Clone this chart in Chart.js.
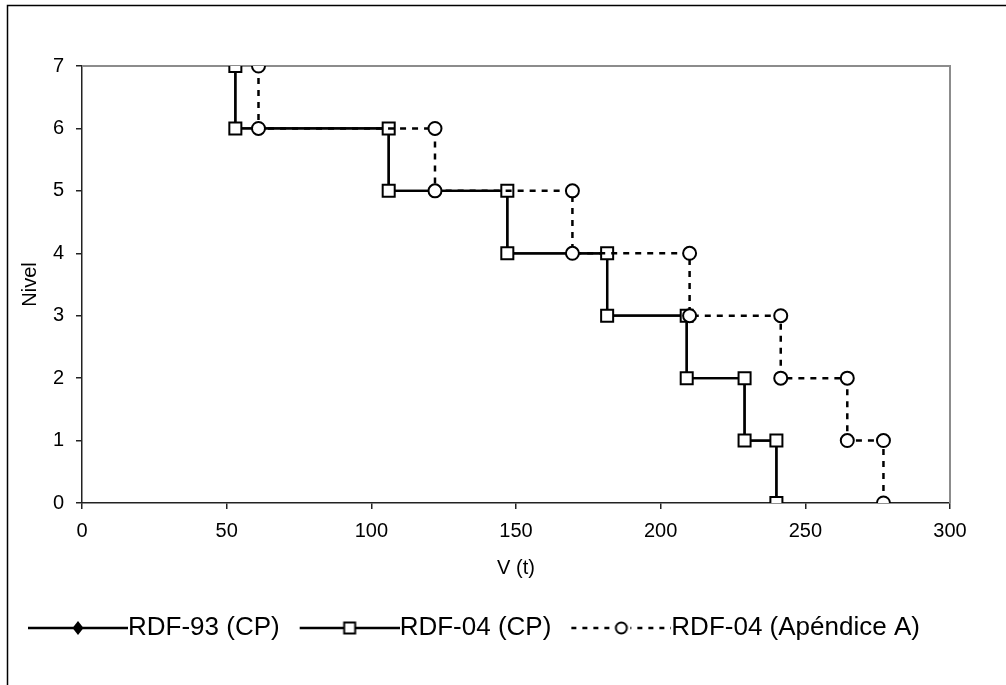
<!DOCTYPE html>
<html>
<head>
<meta charset="utf-8">
<script src="https://cdn.jsdelivr.net/npm/chart.js@4/dist/chart.umd.min.js"></script>
<style>
html,body{margin:0;padding:0;background:#fff;}
#wrap{position:relative;width:1006px;height:685px;}
</style>
</head>
<body>
<div id="wrap"><canvas id="c" width="1006" height="685"></canvas></div>
<script>
// ---- data ----
const seriesNames = ['RDF-93 (CP)', 'RDF-04 (CP)', 'RDF-04 (Apéndice A)'];
const levels = [7, 6, 6, 5, 5, 4, 4, 3, 3, 2, 2, 1, 1, 0];
const rdf93V = [53, 53, 106, 106, 147, 147, 181.5, 181.5, 209, 209, 229, 229, 240, 240];
const rdf04cpV = [53, 53, 106, 106, 147, 147, 181.5, 181.5, 209, 209, 229, 229, 240, 240];
const rdf04apV = [61, 61, 122, 122, 169.5, 169.5, 210, 210, 241.5, 241.5, 264.5, 264.5, 277, 277];
const xTicks = [0, 50, 100, 150, 200, 250, 300];
const yTicks = [0, 1, 2, 3, 4, 5, 6, 7];

const toPts = (xs, ys) => xs.map((x, i) => ({x: x, y: ys[i]}));

const FONT = "'Liberation Sans', Arial, sans-serif";
const LEG_FONT = 26;
const LEG_BOX = 97;      // legend box width
const LEG_SAMPLE = 100;  // visible sample length

function legendImage(kind) {
  const w = LEG_BOX + LEG_FONT, h = 22;
  const c = document.createElement('canvas');
  c.width = w; c.height = h;
  const g = c.getContext('2d');
  const x0 = w - LEG_SAMPLE;
  const cx = x0 + LEG_SAMPLE / 2, cy = h / 2;
  g.strokeStyle = '#000'; g.lineWidth = 2.3;
  if (kind === 'circle') g.setLineDash([5, 6]);
  g.beginPath(); g.moveTo(x0, cy); g.lineTo(w, cy); g.stroke();
  g.setLineDash([]);
  g.lineWidth = 2;
  if (kind === 'diamond') {
    g.fillStyle = '#000';
    g.beginPath(); g.moveTo(cx, cy - 7); g.lineTo(cx + 5.5, cy); g.lineTo(cx, cy + 7); g.lineTo(cx - 5.5, cy); g.closePath(); g.fill();
  } else if (kind === 'square') {
    g.fillStyle = '#fff';
    g.fillRect(cx - 5.5, cy - 5.5, 11, 11); g.strokeRect(cx - 5.5, cy - 5.5, 11, 11);
  } else {
    g.fillStyle = '#fff';
    g.clearRect(cx - 9, 0, 18, h);
    g.beginPath(); g.arc(cx, cy, 5.5, 0, Math.PI * 2); g.fill(); g.stroke();
  }
  return c;
}
const legendImgs = [legendImage('diamond'), legendImage('square'), legendImage('circle')];

const framePlugin = {
  id: 'frame',
  beforeDraw(chart) {
    const ctx = chart.ctx;
    ctx.save();
    ctx.fillStyle = '#fff';
    ctx.fillRect(0, 0, chart.width, chart.height);
    ctx.strokeStyle = '#000'; ctx.lineWidth = 1.5;
    ctx.beginPath();
    ctx.moveTo(7.5, chart.height); ctx.lineTo(7.5, 5.5); ctx.lineTo(chart.width, 5.5);
    ctx.stroke();
    ctx.restore();
  },
  beforeDatasetsDraw(chart) {
    const a = chart.chartArea, ctx = chart.ctx;
    ctx.save();
    ctx.strokeStyle = '#8c8c8c'; ctx.lineWidth = 2;
    ctx.beginPath();
    ctx.moveTo(a.left, a.top); ctx.lineTo(a.right, a.top); ctx.lineTo(a.right, a.bottom);
    ctx.stroke();
    ctx.restore();
  }
};

new Chart(document.getElementById('c'), {
  type: 'line',
  data: {
    datasets: [
      {
        label: seriesNames[0], data: toPts(rdf93V, levels), order: 3,
        borderColor: '#000', borderWidth: 2.3, backgroundColor: '#000',
        pointStyle: 'rectRot', pointRadius: 5.5, pointBorderWidth: 0, pointBackgroundColor: '#000'
      },
      {
        label: seriesNames[1], data: toPts(rdf04cpV, levels), order: 2,
        borderColor: '#000', borderWidth: 2.3,
        pointStyle: 'rect', pointRadius: 8.5, pointBorderWidth: 2,
        pointBorderColor: '#000', pointBackgroundColor: '#fff'
      },
      {
        label: seriesNames[2], data: toPts(rdf04apV, levels), order: 1,
        borderColor: '#000', borderWidth: 2.5, borderDash: [6, 6],
        pointStyle: 'circle', pointRadius: 6.5, pointBorderWidth: 2,
        pointBorderColor: '#000', pointBackgroundColor: '#fff'
      }
    ]
  },
  options: {
    responsive: false,
    animation: false,
    events: [],
    layout: {padding: {left: 8, right: 0, top: 66, bottom: 34}},
    elements: {line: {tension: 0, fill: false}},
    plugins: {
      tooltip: {enabled: false},
      legend: {
        position: 'bottom',
        align: 'start',
        labels: {
          usePointStyle: true,
          pointStyleWidth: LEG_BOX,
          boxHeight: LEG_FONT,
          padding: 10,
          color: '#000',
          font: {family: FONT, size: LEG_FONT},
          generateLabels: (chart) => seriesNames.map((n, i) => ({
            text: n, pointStyle: legendImgs[i], datasetIndex: i,
            fillStyle: '#000', strokeStyle: '#000', lineWidth: 0, hidden: false
          })),
          sort: (a, b) => a.datasetIndex - b.datasetIndex
        }
      }
    },
    scales: {
      x: {
        type: 'linear', min: 0, max: 300,
        afterFit: (s) => { s.height = 102; },
        afterBuildTicks: (s) => { s.ticks = xTicks.map(v => ({value: v})); },
        border: {display: true, color: '#222', width: 1.5},
        grid: {display: true, drawOnChartArea: false, drawTicks: true, tickLength: 6, color: '#222', lineWidth: 1.5},
        ticks: {color: '#000', font: {family: FONT, size: 20}, padding: 10, maxRotation: 0},
        title: {display: true, text: 'V (t)', color: '#000', font: {family: FONT, size: 20}, padding: {top: 0, bottom: 25}}
      },
      y: {
        type: 'linear', min: 0, max: 7,
        afterFit: (s) => { s.width = 74; },
        afterBuildTicks: (s) => { s.ticks = yTicks.map(v => ({value: v})); },
        border: {display: true, color: '#222', width: 1.5},
        grid: {display: true, drawOnChartArea: false, drawTicks: true, tickLength: 6, color: '#222', lineWidth: 1.5},
        ticks: {color: '#000', font: {family: FONT, size: 20}, padding: 12},
        title: {display: true, text: 'Nivel', color: '#000', font: {family: FONT, size: 20}, padding: {top: 10, bottom: 0}}
      },
      ySpacer: {
        type: 'linear', position: 'right', min: 0, max: 7, display: true,
        afterFit: (s) => { s.width = 56; },
        border: {display: false},
        grid: {display: false, drawTicks: false},
        ticks: {display: false}
      }
    }
  },
  plugins: [framePlugin]
});
</script>
</body>
</html>
